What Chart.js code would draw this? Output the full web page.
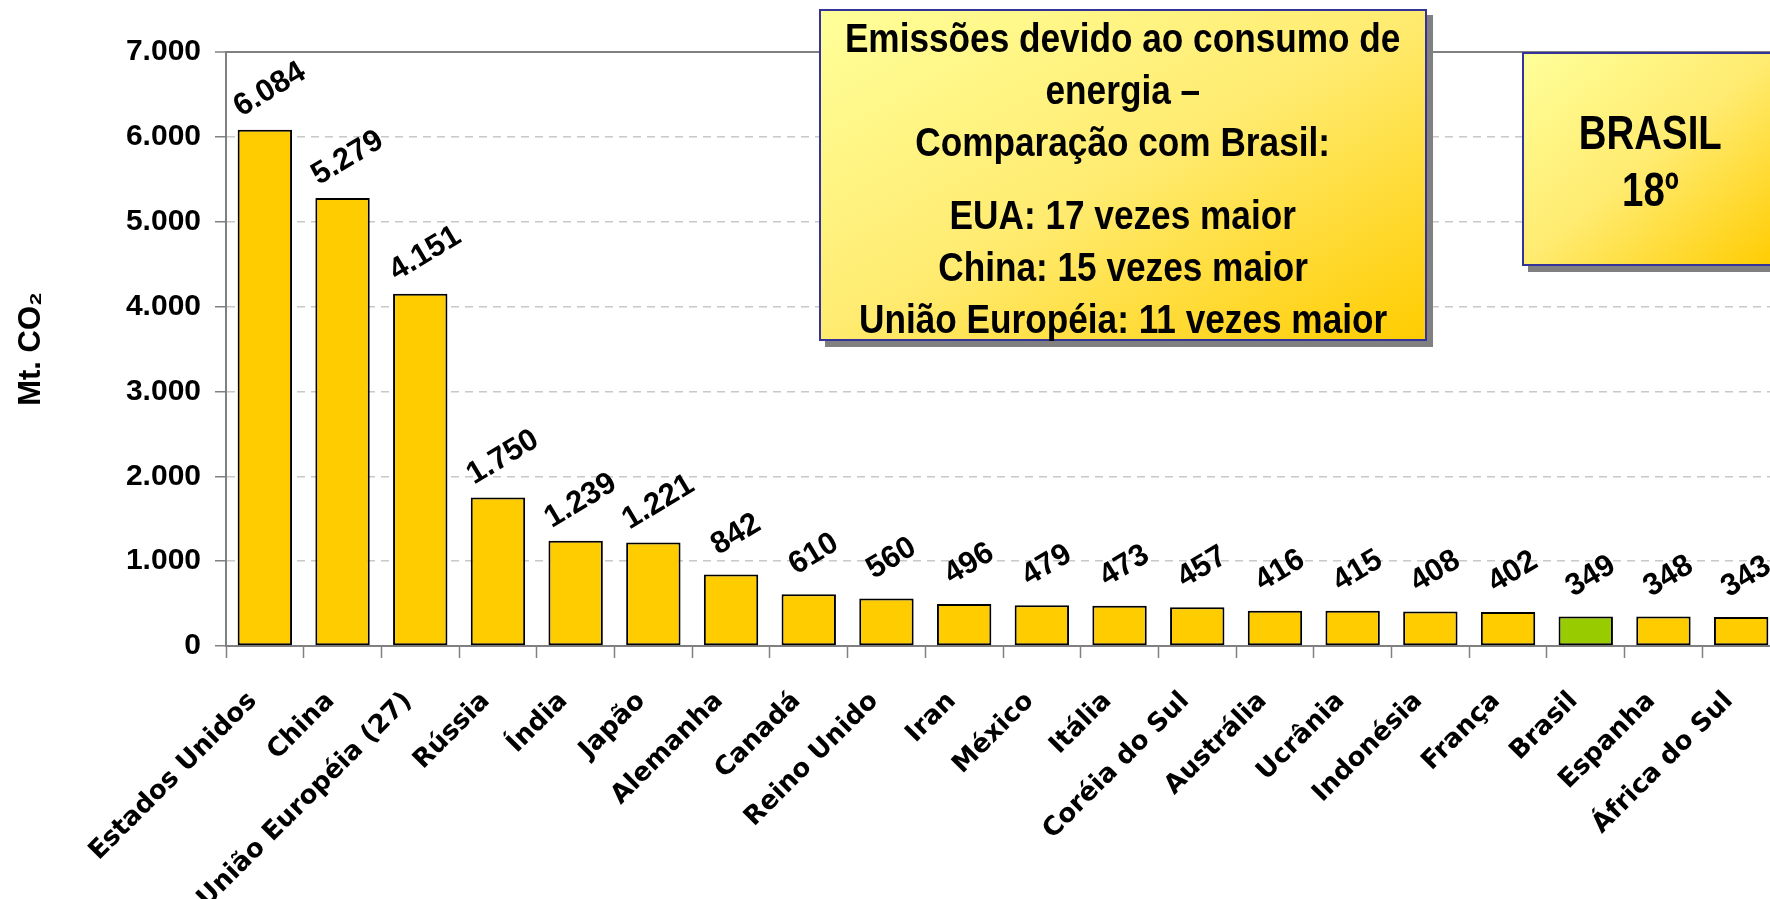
<!DOCTYPE html>
<html>
<head>
<meta charset="utf-8">
<script src="https://cdn.jsdelivr.net/npm/chart.js@4.4.0/dist/chart.umd.min.js"></script>
<style>
  html, body { margin: 0; padding: 0; background: #fff; overflow: hidden; }
  #wrap { position: relative; width: 1770px; height: 899px; overflow: hidden; }
  #chart { position: absolute; left: 0; top: 0; }
  .box {
    position: absolute;
    box-sizing: border-box;
    border: 2px solid #333399;
    background: linear-gradient(to bottom right, #ffff99 0%, #ffeb70 50%, #ffcc00 100%);
    box-shadow: 6px 6px 0 #808080;
    font-family: "Liberation Sans", Arial, sans-serif;
    font-weight: bold;
    color: #000;
    white-space: nowrap;
  }
  .box .ln { display: flex; justify-content: center; height: 52px; line-height: 52px; }
  .box .ln span { display: inline-block; flex: none; transform: scaleX(0.88); }
  #note { left: 819px; top: 9px; width: 608px; height: 332px; font-size: 40px; padding-top: 1px; }
  #note .gap { height: 21px; }
  #rank { left: 1522px; top: 52px; width: 256px; height: 214px; font-size: 48px; padding-top: 50px; }
  #rank .ln { height: 57px; line-height: 57px; }
  #rank .ln span { transform: scaleX(0.8); }
</style>
</head>
<body>
<div id="wrap">
  <canvas id="chart" width="1790" height="899"></canvas>
  <div class="box" id="note">
    <div class="ln"><span>Emissões devido ao consumo de</span></div>
    <div class="ln"><span>energia –</span></div>
    <div class="ln"><span>Comparação com Brasil:</span></div>
    <div class="gap"></div>
    <div class="ln"><span>EUA: 17 vezes maior</span></div>
    <div class="ln"><span>China: 15 vezes maior</span></div>
    <div class="ln"><span>União Européia: 11 vezes maior</span></div>
  </div>
  <div class="box" id="rank">
    <div class="ln"><span>BRASIL</span></div>
    <div class="ln"><span>18º</span></div>
  </div>
</div>
<script>
const countries = [
  "Estados Unidos", "China", "União Européia (27)", "Rússia", "Índia",
  "Japão", "Alemanha", "Canadá", "Reino Unido", "Iran",
  "México", "Itália", "Coréia do Sul", "Austrália", "Ucrânia",
  "Indonésia", "França", "Brasil", "Espanha", "África do Sul"
];
const emissions = [
  6084, 5279, 4151, 1750, 1239,
  1221, 842, 610, 560, 496,
  479, 473, 457, 416, 415,
  408, 402, 349, 348, 343
];
const yMin = 0;
const yMax = 7000;
const yStep = 1000;
const highlight = "Brasil";
const yTitle = "Mt. CO₂";

function fmt(v) {
  return String(v).replace(/\B(?=(\d{3})+(?!\d))/g, ".");
}

const barColors = countries.map((c) => (c === highlight ? "#99cc00" : "#ffcc00"));

// tilted value labels centred a bit above each bar
const valueLabels = {
  id: "valueLabels",
  afterDatasetsDraw(chart) {
    const ctx = chart.ctx;
    const meta = chart.getDatasetMeta(0);
    ctx.save();
    ctx.font = 'bold 31px "Liberation Sans", Arial, sans-serif';
    ctx.fillStyle = "#000";
    ctx.textAlign = "center";
    ctx.textBaseline = "middle";
    meta.data.forEach((bar, i) => {
      ctx.save();
      ctx.translate(bar.x + 5, bar.y - 40);
      ctx.rotate((-31 * Math.PI) / 180);
      ctx.fillText(fmt(emissions[i]), 0, 0);
      ctx.restore();
    });
    ctx.restore();
  },
};

const ctx = document.getElementById("chart").getContext("2d");
const myChart = new Chart(ctx, {
  type: "bar",
  data: {
    labels: countries,
    datasets: [
      {
        data: emissions,
        backgroundColor: barColors,
        borderColor: "#000",
        borderWidth: 2,
        borderSkipped: false,
        categoryPercentage: 1,
        barPercentage: 0.7,
      },
    ],
  },
  options: {
    responsive: false,
    animation: false,
    layout: { padding: { top: 52, right: 10, left: 0, bottom: 0 } },
    plugins: {
      legend: { display: false },
      tooltip: { enabled: false },
    },
    scales: {
      x: {
        offset: true,
        grid: {
          offset: true,
          drawOnChartArea: false,
          drawTicks: true,
          tickLength: 12,
          tickColor: "#808080",
          tickWidth: 1.5,
        },
        border: { display: true, color: "#808080", width: 2 },
        ticks: {
          autoSkip: false,
          minRotation: 45,
          maxRotation: 45,
          padding: 28,
          labelOffset: -12,
          color: "#000",
          font: { family: '"DejaVu Sans", sans-serif', size: 26, weight: "bold" },
        },
        afterFit(scale) {
          // the slide lets the plot run off the right edge, keep the full width
          scale.height = 253;
          scale.paddingLeft = 0;
          scale.paddingRight = 0;
        },
      },
      y: {
        min: yMin,
        max: yMax,
        ticks: {
          stepSize: yStep,
          padding: 14,
          color: "#000",
          font: { family: '"Liberation Sans", Arial, sans-serif', size: 30, weight: "bold" },
          callback: (v) => fmt(v),
        },
        grid: {
          drawTicks: true,
          tickLength: 11,
          tickColor: "#808080",
          tickWidth: 1.5,
          color: (c) => (c.tick && c.tick.value === yMax ? "#808080" : "#c8c8c8"),
          lineWidth: (c) => (c.tick && c.tick.value === yMax ? 2 : 1.5),
        },
        border: {
          display: true,
          color: "#808080",
          width: 2,
          dash: (c) => (c.tick && c.tick.value === yMax ? [] : [8, 6]),
        },
        title: {
          display: true,
          text: yTitle,
          color: "#000",
          padding: { top: 13, bottom: 0 },
          font: { family: '"Liberation Sans", Arial, sans-serif', size: 31, weight: "bold" },
        },
        afterFit(scale) {
          scale.width = 226;
        },
      },
    },
  },
  plugins: [valueLabels],
});
</script>
</body>
</html>
